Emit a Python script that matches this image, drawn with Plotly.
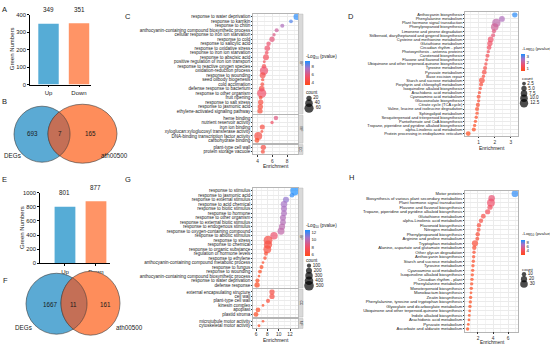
import numpy as np
import plotly.graph_objects as go

W, H = 550, 348
FONT = "Arial, 'Liberation Sans', 'DejaVu Sans', sans-serif"
INK = "#1a1a1a"

# ======================= DATA =======================
bar_categories = ["Up", "Down"]
A_gene_numbers = [349, 351]
E_gene_numbers = [801, 877]
A_yticks = [0, 100, 200, 300, 400]
E_yticks = [0, 200, 400, 600, 800, 1000]
bar_colors = ["#56ACD6", "#FF9466"]

venn_names = ["DEGs", "ath00500"]
B_venn_counts = [693, 7, 165]      # DEGs only, shared, ath00500 only
F_venn_counts = [1667, 11, 161]

# ---- C : GO enrichment (panel 1) ----
C_bp_terms = ["response to water deprivation", "response to karrikin", "response to chitin",
              "anthocyanin-containing compound biosynthetic process",
              "cellular response to iron ion starvation", "response to cold",
              "response to salicylic acid", "response to oxidative stress",
              "response to iron ion starvation", "response to abscisic acid",
              "positive regulation of iron ion transport", "response to reactive oxygen species",
              "oxidation-reduction process", "response to wounding", "seed oilbody biogenesis",
              "cold acclimation", "defense response to bacterium", "response to other organism",
              "fruit ripening", "response to salt stress", "response to jasmonic acid",
              "ethylene-activated signaling pathway"]
C_bp_enrich = [9.32, 8.54, 7.36, 6.60, 6.24, 5.97, 5.50, 5.33, 5.25, 5.15, 4.92, 4.88,
               4.88, 4.70, 4.70, 4.65, 4.57, 4.57, 4.43, 4.43, 4.38, 4.34]
C_bp_logp = [9.1, 8.6, 7.3, 6.6, 6.1, 5.9, 5.6, 5.5, 5.3, 5.2, 5.0, 4.9,
             5.6, 4.8, 4.5, 4.5, 4.6, 5.5, 4.4, 4.5, 4.4, 4.3]
C_bp_count = [30, 10, 12, 12, 8, 20, 14, 22, 10, 25, 6, 14, 50, 25, 8, 10, 22, 60, 10, 20, 20, 20]
C_mf_terms = ["heme binding", "nutrient reservoir activity", "iron ion binding",
              "xyloglucan:xyloglucosyl transferase activity",
              "DNA-binding transcription factor activity", "carbohydrate binding"]
C_mf_enrich = [6.5, 5.97, 4.65, 4.6, 4.1, 3.93]
C_mf_logp = [6.0, 5.4, 4.5, 4.4, 4.6, 3.9]
C_mf_count = [14, 8, 18, 6, 45, 16]
C_cc_terms = ["plant-type cell wall", "protein storage vacuole"]
C_cc_enrich = [4.79, 4.72]
C_cc_logp = [4.6, 4.4]
C_cc_count = [20, 12]
C_facets = ["BP", "MF", "CC"]
C_enrich_ticks = [4, 6, 8]
C_logp_ticks = [4, 6, 8]
C_count_legend = [20, 40, 60]

# ---- D : KEGG enrichment (panel 1) ----
D_terms = ["Anthocyanin biosynthesis", "Phenylalanine metabolism", "Plant hormone signal transduction",
           "Phenylpropanoid biosynthesis", "Limonene and pinene degradation",
           "Stilbenoid, diarylheptanoid and gingerol biosynthesis", "Cysteine and methionine metabolism",
           "Glutathione metabolism", "Circadian rhythm - plant", "Photosynthesis - antenna proteins",
           "Carotenoid biosynthesis", "Flavone and flavonol biosynthesis",
           "Ubiquinone and other terpenoid-quinone biosynthesis", "Tyrosine metabolism",
           "Pyruvate metabolism", "Base excision repair", "Starch and sucrose metabolism",
           "Porphyrin and chlorophyll metabolism", "Isoquinoline alkaloid biosynthesis",
           "Arachidonic acid metabolism", "Cyanoamino acid metabolism", "Glucosinolate biosynthesis",
           "Citrate cycle (TCA cycle)", "Valine, leucine and isoleucine degradation",
           "Sphingolipid metabolism", "Sesquiterpenoid and triterpenoid biosynthesis",
           "Pantothenate and CoA biosynthesis", "Tropane, piperidine and pyridine alkaloid biosynthesis",
           "alpha-Linolenic acid metabolism", "Protein processing in endoplasmic reticulum"]
D_enrich = [3.25, 2.45, 2.1, 2.0, 1.95, 1.9, 1.75, 1.7, 1.65, 1.6, 1.55, 1.5, 1.45, 1.4, 1.35,
            1.3, 1.2, 1.15, 1.1, 1.05, 1.0, 1.0, 0.95, 0.9, 0.9, 0.85, 0.8, 0.75, 0.7, 0.35]
D_logp = [3.3, 2.4, 2.2, 2.0, 1.7, 1.65, 1.5, 1.45, 1.4, 1.3, 1.25, 1.2, 1.15, 1.1, 1.05,
          1.0, 0.95, 0.9, 0.9, 0.85, 0.8, 0.8, 0.75, 0.7, 0.7, 0.65, 0.6, 0.6, 0.55, 0.5]
D_count = [5, 6, 12, 10, 3, 3, 6, 5, 4, 2, 3, 2, 2, 3, 4, 2, 6, 3, 2, 2, 3, 2, 3, 3, 2, 2, 2, 2, 3, 4]
D_enrich_ticks = [1, 2, 3]
D_logp_ticks = [1, 2, 3]
D_count_legend = [2.5, 5.0, 7.5, 10.0, 12.5]

# ---- G : GO enrichment (panel 2) ----
G_bp_terms = ["response to stimulus", "response to jasmonic acid", "response to external stimulus",
              "response to acid chemical", "response to biotic stimulus", "response to hormone",
              "response to other organism", "response to external biotic stimulus",
              "response to endogenous stimulus", "response to oxygen-containing compound",
              "response to abiotic stimulus", "response to stress", "response to chemical",
              "response to organic substance", "regulation of hormone levels", "response to ethylene",
              "anthocyanin-containing compound metabolic process", "response to fungus",
              "response to wounding", "anthocyanin-containing compound biosynthetic process",
              "response to water deprivation", "defense response"]
G_bp_enrich = [12.88, 12.35, 11.29, 10.94, 10.94, 10.94, 10.76, 10.76, 10.59, 10.41, 9.18,
               8.12, 8.12, 8.0, 7.76, 7.59, 7.24, 6.97, 6.7, 6.53, 6.26, 6.18]
G_bp_logp = [13.0, 12.3, 10.8, 10.5, 10.4, 10.3, 10.2, 10.1, 9.9, 9.7, 8.2,
             7.0, 6.9, 6.8, 6.5, 6.4, 6.2, 6.1, 6.0, 6.0, 5.9, 5.9]
G_bp_count = [480, 120, 200, 230, 200, 190, 200, 180, 210, 260, 300,
              420, 380, 330, 90, 70, 40, 90, 80, 40, 100, 160]
G_cc_terms = ["external encapsulating structure", "cell wall", "plant-type cell wall",
              "kinesin complex", "apoplast", "plastid stroma"]
G_cc_enrich = [8.82, 8.82, 8.12, 7.24, 6.35, 6.0]
G_cc_logp = [7.0, 7.0, 6.6, 6.1, 6.0, 5.9]
G_cc_count = [150, 150, 90, 40, 120, 130]
G_mf_terms = ["microtubule motor activity", "cytoskeletal motor activity"]
G_mf_enrich = [7.24, 6.53]
G_mf_logp = [6.2, 6.0]
G_mf_count = [40, 45]
G_facets = ["BP", "CC", "MF"]
G_enrich_ticks = [6, 8, 10, 12]
G_logp_ticks = [6, 8, 10, 12]
G_count_legend = [100, 200, 300, 400, 500]

# ---- H : KEGG enrichment (panel 2) ----
H_terms = ["Motor proteins", "Biosynthesis of various plant secondary metabolites",
           "Plant hormone signal transduction", "Flavone and flavonol biosynthesis",
           "Tropane, piperidine and pyridine alkaloid biosynthesis", "Glutathione metabolism",
           "alpha-Linolenic acid metabolism", "Flavonoid biosynthesis", "Nitrogen metabolism",
           "Phenylpropanoid biosynthesis", "Arginine and proline metabolism", "Tryptophan metabolism",
           "Alanine, aspartate and glutamate metabolism", "Other glycan degradation",
           "Anthocyanin biosynthesis", "Starch and sucrose metabolism", "Tyrosine metabolism",
           "Cyanoamino acid metabolism", "Isoquinoline alkaloid biosynthesis", "Circadian rhythm - plant",
           "Phenylalanine metabolism", "Monoterpenoid biosynthesis", "Monobactam biosynthesis",
           "Zeatin biosynthesis", "Phenylalanine, tyrosine and tryptophan biosynthesis",
           "Glyoxylate and dicarboxylate metabolism",
           "Ubiquinone and other terpenoid-quinone biosynthesis", "Indole alkaloid biosynthesis",
           "Arachidonic acid metabolism", "Pyruvate metabolism", "Ascorbate and aldarate metabolism"]
H_enrich = [6.93, 3.82, 3.73, 3.6, 3.29, 2.71, 2.4, 2.13, 2.09, 1.96, 1.91, 1.6, 1.51, 1.47,
            1.42, 1.38, 1.33, 1.29, 1.24, 1.2, 1.16, 1.11, 1.07, 1.02, 0.98, 0.93, 0.89, 0.84,
            0.8, 0.71, 0.62]
H_logp = [9.0, 4.8, 4.6, 4.2, 4.0, 3.5, 3.3, 3.1, 3.0, 2.9, 2.8, 2.9, 2.7, 2.6, 2.5, 2.5,
          2.4, 2.4, 2.3, 2.3, 2.3, 2.2, 2.2, 2.2, 2.1, 2.1, 2.1, 2.0, 2.0, 2.0, 2.0]
H_count = [24, 22, 32, 14, 14, 12, 10, 10, 8, 10, 8, 20, 10, 6, 6, 6,
           6, 6, 6, 6, 6, 6, 4, 6, 6, 6, 4, 4, 4, 4, 6]
H_enrich_ticks = [2, 4, 6]
H_logp_ticks = [4, 6, 8]
H_count_legend = [10, 20, 30]

# ======================= HELPERS =======================
CS = [[0, "#FF4A1A"], [0.35, "#F0506A"], [0.7, "#A673C8"], [1, "#1A8FFF"]]
BORDER = "#B5B5B5"
GRID = "#EBEBEB"

layout = dict(width=W, height=H, margin=dict(l=0, r=0, t=0, b=0),
              paper_bgcolor="white", plot_bgcolor="white", showlegend=False,
              font=dict(family=FONT, color=INK))
traces, shapes, annotations = [], [], []
_axn = [0]


def fx(px):
    return min(max(px / W, 0), 1)


def fy(py):
    return min(max(1 - py / H, 0), 1)


def new_axes(x0, x1, y0, y1):
    _axn[0] += 1
    n = _axn[0]
    s = "" if n == 1 else str(n)
    layout["xaxis" + s] = dict(domain=[fx(x0), fx(x1)], anchor="y" + s)
    layout["yaxis" + s] = dict(domain=[fy(y1), fy(y0)], anchor="x" + s)
    return "x" + s, "y" + s, layout["xaxis" + s], layout["yaxis" + s]


def ann(x, y, text, size, xanchor="center", yanchor="middle", angle=0, color=INK):
    annotations.append(dict(x=x / W, y=1 - y / H, xref="paper", yref="paper", text=text,
                            showarrow=False, font=dict(size=size, color=color, family=FONT),
                            xanchor=xanchor, yanchor=yanchor, textangle=angle, borderpad=0))


def bar_panel(x0, x1, y0, y1, values, yticks, xrange):
    xr, yr, xa, ya = new_axes(x0, x1, y0, y1)
    traces.append(go.Bar(x=bar_categories, y=values, marker=dict(color=bar_colors, line=dict(width=0)),
                         width=0.67, xaxis=xr, yaxis=yr, hoverinfo="skip"))
    for c, v in zip(bar_categories, values):
        annotations.append(dict(x=c, y=v, xref=xr, yref=yr, text=str(v), showarrow=False,
                                yshift=14, font=dict(size=6.3, color=INK), yanchor="middle"))
    xa.update(type="category", range=xrange, showline=True, linecolor="black", linewidth=0.8,
              ticks="outside", ticklen=2, tickwidth=0.8, tickcolor="black",
              tickfont=dict(size=6, color=INK), showgrid=False, zeroline=False)
    ya.update(range=[yticks[0], yticks[-1]], tickvals=yticks, showline=True, linecolor="black",
              linewidth=0.8, ticks="outside", ticklen=2, tickwidth=0.8, tickcolor="black",
              tickfont=dict(size=5.8, color=INK), showgrid=False, zeroline=False)


def dot_panel(x0, x1, y0, y1, terms, enrich, logp, count, xrange, xticks, minor, cax,
              sizeref, show_x, tfont):
    xr, yr, xa, ya = new_axes(x0, x1, y0, y1)
    k = len(terms)
    idx = list(range(k))
    traces.append(go.Scatter(x=enrich, y=idx, mode="markers", xaxis=xr, yaxis=yr, hoverinfo="skip",
                             marker=dict(size=count, sizemode="area", sizeref=sizeref, sizemin=1,
                                         color=logp, coloraxis=cax, line=dict(width=0))))
    xa.update(range=xrange, tickvals=xticks, showticklabels=show_x,
              ticks="outside" if show_x else "", ticklen=1.5, tickwidth=0.5, tickcolor="#333",
              tickfont=dict(size=4.8, color="#333"), showgrid=True, gridcolor=GRID, gridwidth=0.5,
              minor=dict(dtick=minor, tick0=0, showgrid=True, gridcolor="#F4F4F4", gridwidth=0.4),
              showline=True, mirror=True, linecolor=BORDER, linewidth=0.6, zeroline=False)
    ya.update(range=[k - 1 + 0.6, -0.6], tickvals=idx, ticktext=terms, ticks="outside",
              ticklen=1, tickwidth=0.5, tickcolor="#333", tickfont=dict(size=tfont, color="#222"),
              showgrid=True, gridcolor=GRID, gridwidth=0.5, showline=True, mirror=True,
              linecolor=BORDER, linewidth=0.6, zeroline=False)


def strip(x0, x1, y0, y1, label):
    shapes.append(dict(type="rect", xref="paper", yref="paper", x0=fx(x0), x1=fx(x1),
                       y0=fy(y1), y1=fy(y0), fillcolor="#D9D9D9", line=dict(color=BORDER, width=0.5)))
    ann((x0 + x1) / 2, (y0 + y1) / 2, label, 3.4, angle=90, color="#333")


def facet_stack(x0, x1, ytop, spacing, gap, groups, labels, xrange, xticks, minor, cax, sizeref, tfont):
    y = ytop
    for i, (g, lab) in enumerate(zip(groups, labels)):
        terms, enrich, logp, count = g
        h = (len(terms) - 1 + 1.2) * spacing
        dot_panel(x0, x1, y, y + h, terms, enrich, logp, count, xrange, xticks, minor, cax,
                  sizeref, i == len(groups) - 1, tfont)
        strip(x1 + 0.5, x1 + 5, y, y + h, lab)
        y += h + gap


def size_legend(xpx, ytop, step, values, sizeref, labels):
    k = len(values)
    right = min(xpx + 14, W)
    xr, yr, xa, ya = new_axes(xpx - 4, right, ytop - step / 2, ytop + step * (k - 0.5))
    traces.append(go.Scatter(x=[0] * k, y=list(range(k)), mode="markers+text", text=labels,
                             textposition="middle right", textfont=dict(size=4.6, color="#222"),
                             marker=dict(size=values, sizemode="area", sizeref=sizeref, color="black",
                                         line=dict(width=0)),
                             xaxis=xr, yaxis=yr, cliponaxis=False, hoverinfo="skip"))
    xa.update(range=[-4, right - xpx], visible=False, showgrid=False, zeroline=False)
    ya.update(range=[k - 0.5, -0.5], visible=False, showgrid=False, zeroline=False)


def color_axis(name, cmin, cmax, ticks, xpx, ytop, ybot, thick=5):
    layout[name] = dict(colorscale=CS, cmin=cmin, cmax=cmax,
                        colorbar=dict(x=fx(xpx), xanchor="left", y=fy(ytop), yanchor="top",
                                      len=ybot - ytop, lenmode="pixels", thickness=thick,
                                      thicknessmode="pixels", outlinewidth=0, tickvals=ticks,
                                      ticks="", tickfont=dict(size=4.4, color="#222"),
                                      xpad=0, ypad=0))


def sref(maxval, dmax):
    return maxval / (2 * dmax ** 2)


def ellipse_params(b):
    return (b[0] + b[1]) / 2, (b[2] + b[3]) / 2, (b[1] - b[0]) / 2, (b[3] - b[2]) / 2


def venn(blue_box, orange_box, counts, num_pos, name_pos):
    for box, col in [(blue_box, "#5BAAD4"), (orange_box, "#FE8D5B")]:
        shapes.append(dict(type="circle", xref="paper", yref="paper", x0=fx(box[0]), x1=fx(box[1]),
                           y0=fy(box[3]), y1=fy(box[2]), fillcolor=col,
                           line=dict(color="#3a3a3a", width=0.6)))
    bcx, bcy, ba, bb = ellipse_params(blue_box)
    ocx, ocy, oa, ob = ellipse_params(orange_box)
    t = np.linspace(-np.pi, np.pi, 721)
    bx, by = bcx + ba * np.cos(t), bcy + bb * np.sin(t)
    m1 = ((bx - ocx) / oa) ** 2 + ((by - ocy) / ob) ** 2 <= 1
    t2 = np.linspace(0, 2 * np.pi, 721)
    ox, oy = ocx + oa * np.cos(t2), ocy + ob * np.sin(t2)
    m2 = ((ox - bcx) / ba) ** 2 + ((oy - bcy) / bb) ** 2 <= 1
    pts = list(zip(bx[m1], by[m1])) + list(zip(ox[m2], oy[m2]))
    path = "M " + " L ".join(f"{x / W:.5f},{1 - y / H:.5f}" for x, y in pts) + " Z"
    shapes.append(dict(type="path", xref="paper", yref="paper", path=path, fillcolor="#C46F56",
                       line=dict(color="#3a3a3a", width=0.6)))
    for (x, y), c in zip(num_pos, counts):
        ann(x, y, str(c), 6.3)
    for (x, y), nm in zip(name_pos, venn_names):
        ann(x, y, nm, 6.3)


# ======================= PANELS =======================
# A / E bar charts
bar_panel(30, 91, 12, 83, A_gene_numbers, A_yticks, [-0.607, 1.393])
bar_panel(40, 110, 193, 265, E_gene_numbers, E_yticks, [-0.806, 1.452])
ann(12, 47, "Green Numbers", 6, angle=-90)
ann(22, 229, "Green Numbers", 6, angle=-90)

# B / F Venn diagrams
venn((14, 70, 105, 162), (48, 117, 103, 163), B_venn_counts,
     [(32, 133), (60, 133), (90, 133)], [(12, 155), (114, 155)])
venn((26, 87, 275, 337), (61, 120, 273, 338), F_venn_counts,
     [(50, 307), (73, 307), (105, 307)], [(23, 330), (129, 330)])

# C : GO facets
C_sref = sref(60, 4.6)
facet_stack(253, 298, 11.3, 4.57, 1.5,
            [(C_bp_terms, C_bp_enrich, C_bp_logp, C_bp_count),
             (C_mf_terms, C_mf_enrich, C_mf_logp, C_mf_count),
             (C_cc_terms, C_cc_enrich, C_cc_logp, C_cc_count)],
            C_facets, [3.39, 9.49], C_enrich_ticks, 1, "coloraxis", C_sref, 4.5)
color_axis("coloraxis", 3.5, 9.3, C_logp_ticks, 305, 59, 83)
ann(305, 55, "-Log<sub>10</sub> (pvalue)", 4.6, xanchor="left")
ann(305, 91, "count", 4.6, xanchor="left")
size_legend(309, 97, 5, C_count_legend, C_sref, [str(v) for v in C_count_legend])
ann(275.5, 165.5, "Enrichment", 5)

# D : KEGG
D_sref = sref(12.5, 4.2)
dot_panel(465, 518, 9.5, 135.4, D_terms, D_enrich, D_logp, D_count, [0.15, 3.45], D_enrich_ticks,
          0.5, "coloraxis2", D_sref, True, 4.0)
color_axis("coloraxis2", 0.5, 3.4, D_logp_ticks, 521, 52, 69, 4)
ann(521, 47, "-Log<sub>10</sub> (pvalue)", 4.4, xanchor="left")
ann(521, 77, "count", 4.4, xanchor="left")
size_legend(524, 82, 5, D_count_legend, D_sref, [f"{v:.1f}" for v in D_count_legend])
ann(491.5, 147.5, "Enrichment", 5)

# G : GO facets
G_sref = sref(500, 4.8)
facet_stack(253, 298, 188.3, 4.57, 1.5,
            [(G_bp_terms, G_bp_enrich, G_bp_logp, G_bp_count),
             (G_cc_terms, G_cc_enrich, G_cc_logp, G_cc_count),
             (G_mf_terms, G_mf_enrich, G_mf_logp, G_mf_count)],
            G_facets, [5.47, 13.41], G_enrich_ticks, 1, "coloraxis3", G_sref, 4.5)
color_axis("coloraxis3", 5.7, 12.6, G_logp_ticks, 305, 231, 257)
ann(305, 227, "-Log<sub>10</sub> (pvalue)", 4.6, xanchor="left")
ann(305, 262.5, "count", 4.6, xanchor="left")
size_legend(309, 267.3, 5.1, G_count_legend, G_sref, [str(v) for v in G_count_legend])
ann(275.5, 343, "Enrichment", 5)

# H : KEGG
H_sref = sref(30, 3.8)
dot_panel(465, 518, 191.3, 334.4, H_terms, H_enrich, H_logp, H_count, [0.27, 7.33], H_enrich_ticks,
          1, "coloraxis4", H_sref, True, 4.2)
color_axis("coloraxis4", 2.0, 9.3, H_logp_ticks, 521, 241, 256, 4)
ann(521, 235, "-Log<sub>10</sub> (pvalue)", 4.4, xanchor="left")
ann(521, 271, "count", 4.4, xanchor="left")
size_legend(524, 276, 5, H_count_legend, H_sref, [str(v) for v in H_count_legend])
ann(492, 345.3, "Enrichment", 4.8)

# panel letters
for letter, (x, y) in {"A": (4, 7), "B": (4, 100), "C": (128, 14), "D": (351, 14),
                       "E": (4, 180), "F": (5, 282), "G": (128, 180), "H": (351, 178)}.items():
    ann(x, y, letter, 7.5)

layout["shapes"] = shapes
layout["annotations"] = annotations
fig = go.Figure(data=traces, layout=layout)
fig.write_html("out.html", config={"displayModeBar": False},
               post_script="document.body.style.margin='0px';document.body.style.overflow='hidden';")
